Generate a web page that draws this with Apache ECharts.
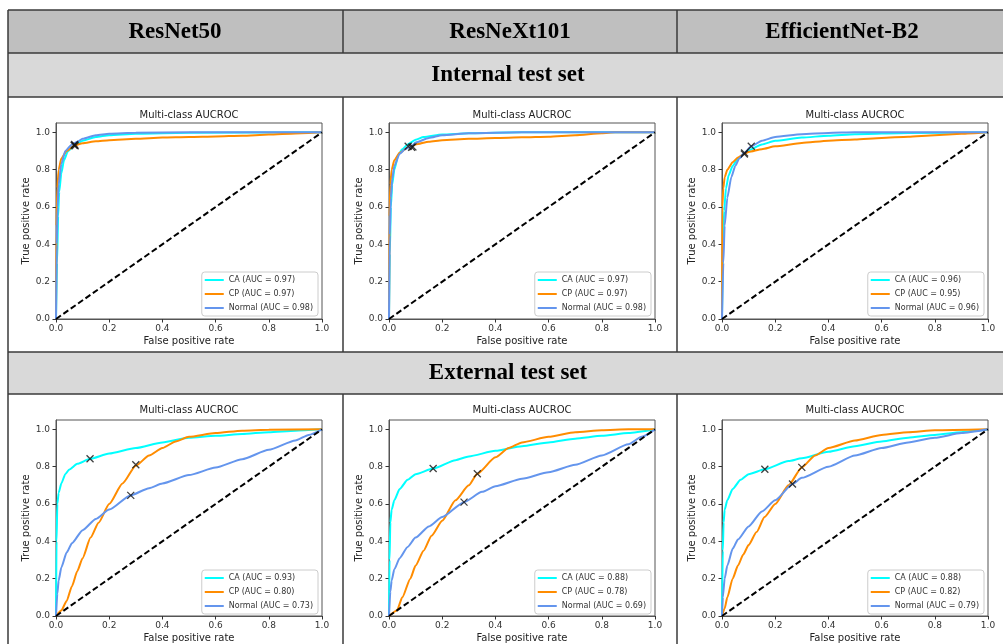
<!DOCTYPE html>
<html>
<head>
<meta charset="utf-8">
<title>Multi-class AUCROC</title>
<script src="https://cdn.jsdelivr.net/npm/echarts@6/dist/echarts.min.js"></script>
<style>
  html, body { margin: 0; padding: 0; background: #fff; }
  #chart { width: 1003px; height: 644px; }
</style>
</head>
<body>
<div id="chart"></div>
<script>
// column / row headings
const models = ['ResNet50', 'ResNeXt101', 'EfficientNet-B2'];
const testSets = ['Internal test set', 'External test set'];
const classes = ['CA', 'CP', 'Normal'];
const tickValues = [0, 0.2, 0.4, 0.6, 0.8, 1.0];

// AUC per model (CA, CP, Normal)
const aucInternal = [[0.97, 0.97, 0.98], [0.97, 0.97, 0.98], [0.96, 0.95, 0.96]];
const aucExternal = [[0.93, 0.80, 0.73], [0.88, 0.78, 0.69], [0.88, 0.82, 0.79]];

// ROC points [fpr, tpr]
// internal - ResNet50
const intR50CA = [[0,0],[0.004,0.3],[0.008,0.55],[0.012,0.68],[0.02,0.78],[0.03,0.85],[0.045,0.9],[0.07,0.93],[0.1,0.955],[0.15,0.975],[0.2,0.985],[0.3,0.993],[0.5,0.998],[1,1]];
const intR50CP = [[0,0],[0.002,0.5],[0.005,0.7],[0.01,0.8],[0.02,0.86],[0.04,0.9],[0.07,0.93],[0.1,0.942],[0.15,0.952],[0.2,0.958],[0.3,0.965],[0.4,0.972],[0.5,0.975],[0.6,0.978],[0.7,0.982],[0.8,0.988],[0.9,0.994],[1,1]];
const intR50N = [[0,0],[0.003,0.4],[0.006,0.6],[0.01,0.72],[0.02,0.83],[0.035,0.9],[0.06,0.935],[0.08,0.95],[0.1,0.965],[0.15,0.985],[0.2,0.993],[0.3,0.998],[0.5,1],[1,1]];
const intR50Cut = [[0.068,0.93],[0.07,0.935],[0.072,0.928]];
// internal - ResNeXt101
const intRX101CA = [[0,0],[0.003,0.35],[0.007,0.6],[0.012,0.72],[0.02,0.8],[0.035,0.88],[0.05,0.91],[0.07,0.935],[0.1,0.96],[0.13,0.975],[0.2,0.988],[0.3,0.995],[0.5,1],[1,1]];
const intRX101CP = [[0,0],[0.002,0.55],[0.005,0.72],[0.01,0.8],[0.02,0.85],[0.04,0.89],[0.07,0.918],[0.1,0.935],[0.15,0.95],[0.2,0.958],[0.3,0.965],[0.4,0.97],[0.5,0.973],[0.6,0.977],[0.7,0.985],[0.8,0.995],[0.85,1],[1,1]];
const intRX101N = [[0,0],[0.003,0.45],[0.007,0.65],[0.012,0.75],[0.02,0.82],[0.04,0.885],[0.06,0.91],[0.085,0.925],[0.1,0.945],[0.15,0.97],[0.2,0.985],[0.3,0.995],[0.5,1],[1,1]];
const intRX101Cut = [[0.072,0.925],[0.085,0.92],[0.09,0.922]];
// internal - EfficientNet-B2
const intEffCA = [[0,0],[0.004,0.4],[0.008,0.58],[0.015,0.7],[0.025,0.77],[0.04,0.82],[0.06,0.86],[0.084,0.886],[0.1,0.905],[0.15,0.935],[0.2,0.955],[0.3,0.972],[0.4,0.982],[0.5,0.99],[0.7,0.997],[1,1]];
const intEffCP = [[0,0],[0.001,0.6],[0.005,0.7],[0.01,0.76],[0.02,0.8],[0.04,0.84],[0.06,0.865],[0.08,0.882],[0.1,0.895],[0.15,0.91],[0.2,0.925],[0.3,0.943],[0.4,0.955],[0.5,0.962],[0.6,0.97],[0.7,0.977],[0.8,0.985],[0.9,0.992],[1,1]];
const intEffN = [[0,0],[0.005,0.3],[0.01,0.5],[0.02,0.65],[0.035,0.76],[0.05,0.82],[0.065,0.86],[0.084,0.89],[0.11,0.925],[0.15,0.955],[0.2,0.975],[0.3,0.99],[0.4,0.997],[0.5,1],[1,1]];
const intEffCut = [[0.084,0.884],[0.085,0.89],[0.11,0.925]];
// external - ResNet50
const extR50CA = [[0,0],[0.002,0.4],[0.005,0.6],[0.01,0.66],[0.02,0.71],[0.035,0.76],[0.05,0.785],[0.08,0.815],[0.128,0.842],[0.2,0.87],[0.3,0.9],[0.4,0.93],[0.5,0.955],[0.6,0.965],[0.7,0.975],[0.8,0.985],[0.9,0.993],[1,1]];
const extR50CP = [[0,0],[0.02,0.03],[0.04,0.08],[0.06,0.16],[0.08,0.24],[0.1,0.31],[0.13,0.42],[0.16,0.5],[0.2,0.6],[0.25,0.71],[0.3,0.805],[0.35,0.86],[0.4,0.9],[0.45,0.935],[0.5,0.96],[0.6,0.98],[0.7,0.993],[0.8,0.998],[1,1]];
const extR50N = [[0,0],[0.005,0.12],[0.01,0.19],[0.02,0.26],[0.04,0.34],[0.06,0.39],[0.1,0.46],[0.15,0.52],[0.2,0.57],[0.28,0.646],[0.35,0.685],[0.4,0.71],[0.5,0.755],[0.6,0.795],[0.7,0.84],[0.8,0.89],[0.9,0.94],[0.95,0.97],[1,1]];
const extR50Cut = [[0.128,0.842],[0.3,0.81],[0.281,0.646]];
// external - ResNeXt101
const extRX101CA = [[0,0],[0.002,0.3],[0.005,0.5],[0.01,0.57],[0.02,0.62],[0.04,0.68],[0.07,0.73],[0.1,0.76],[0.166,0.79],[0.25,0.835],[0.3,0.855],[0.4,0.885],[0.5,0.91],[0.6,0.93],[0.7,0.95],[0.8,0.965],[0.9,0.98],[1,1]];
const extRX101CP = [[0,0],[0.03,0.03],[0.05,0.1],[0.08,0.2],[0.1,0.27],[0.13,0.35],[0.16,0.43],[0.2,0.51],[0.25,0.62],[0.3,0.7],[0.332,0.762],[0.4,0.85],[0.45,0.9],[0.5,0.93],[0.6,0.96],[0.7,0.985],[0.8,0.995],[0.9,1],[1,1]];
const extRX101N = [[0,0],[0.005,0.13],[0.01,0.19],[0.02,0.25],[0.04,0.31],[0.07,0.37],[0.1,0.42],[0.15,0.48],[0.2,0.53],[0.282,0.61],[0.35,0.665],[0.4,0.695],[0.5,0.735],[0.6,0.77],[0.7,0.81],[0.8,0.86],[0.9,0.92],[0.95,0.96],[1,1]];
const extRX101Cut = [[0.166,0.79],[0.332,0.762],[0.282,0.61]];
// external - EfficientNet-B2
const extEffCA = [[0,0],[0.003,0.35],[0.006,0.5],[0.01,0.57],[0.02,0.62],[0.04,0.68],[0.07,0.73],[0.1,0.76],[0.161,0.786],[0.25,0.83],[0.3,0.845],[0.4,0.88],[0.5,0.91],[0.6,0.935],[0.7,0.955],[0.8,0.97],[0.9,0.985],[1,1]];
const extEffCP = [[0,0],[0.01,0.04],[0.02,0.1],[0.04,0.2],[0.06,0.27],[0.08,0.33],[0.1,0.38],[0.13,0.45],[0.16,0.53],[0.2,0.6],[0.25,0.7],[0.3,0.796],[0.35,0.86],[0.4,0.9],[0.5,0.94],[0.6,0.97],[0.7,0.985],[0.8,0.995],[1,1]];
const extEffN = [[0,0],[0.003,0.1],[0.01,0.2],[0.02,0.27],[0.04,0.36],[0.06,0.41],[0.1,0.48],[0.15,0.56],[0.2,0.62],[0.265,0.707],[0.3,0.74],[0.4,0.8],[0.5,0.86],[0.6,0.9],[0.7,0.93],[0.8,0.955],[0.9,0.98],[1,1]];
const extEffCut = [[0.161,0.786],[0.3,0.796],[0.265,0.707]];

const diagonal = [[0, 0], [1, 1]];

// panels in reading order
const panels = [
  { row: 0, col: 0, curves: [intR50CA, intR50CP, intR50N], cuts: intR50Cut, auc: aucInternal[0] },
  { row: 0, col: 1, curves: [intRX101CA, intRX101CP, intRX101N], cuts: intRX101Cut, auc: aucInternal[1] },
  { row: 0, col: 2, curves: [intEffCA, intEffCP, intEffN], cuts: intEffCut, auc: aucInternal[2] },
  { row: 1, col: 0, curves: [extR50CA, extR50CP, extR50N], cuts: extR50Cut, auc: aucExternal[0] },
  { row: 1, col: 1, curves: [extRX101CA, extRX101CP, extRX101N], cuts: extRX101Cut, auc: aucExternal[1] },
  { row: 1, col: 2, curves: [extEffCA, extEffCP, extEffN], cuts: extEffCut, auc: aucExternal[2] }
];

const W = 1003, H = 644;
const colors = ['#00ffff', '#ff8c00', '#6495ed'];
const font = 'DejaVu Sans';

// layout of the table and plot areas
const colLeft = [56, 389, 722];
const rowTop = [123, 420];
const gridW = 266;
const gridH = [196, 197];
const colCenter = [175, 510, 842];
const titleY = [115, 410];

const gridLine = '#3a3a3a';
const tbl = [];
const hline = (y, x1, x2) => tbl.push({ type: 'line', shape: { x1, y1: y, x2, y2: y }, style: { stroke: gridLine, lineWidth: 1.5 } });
const vline = (x, y1, y2) => tbl.push({ type: 'line', shape: { x1: x, y1, x2: x, y2 }, style: { stroke: gridLine, lineWidth: 1.5 } });

tbl.push({ type: 'rect', shape: { x: 8, y: 10, width: W, height: 43 }, style: { fill: '#bfbfbf' } });
tbl.push({ type: 'rect', shape: { x: 8, y: 53, width: W, height: 44 }, style: { fill: '#d9d9d9' } });
tbl.push({ type: 'rect', shape: { x: 8, y: 352, width: W, height: 42 }, style: { fill: '#d9d9d9' } });
[10, 53, 97, 352, 394].forEach(y => hline(y, 8, W));
vline(8, 10, H);
[343, 677].forEach(x => { vline(x, 10, 53); vline(x, 97, 352); vline(x, 394, H); });

models.forEach((m, i) => tbl.push({
  type: 'text', x: colCenter[i], y: 32,
  style: { text: m, font: 'bold 23px "Liberation Serif"', fill: '#000', align: 'center', verticalAlign: 'middle' }
}));
[75, 373].forEach((y, i) => tbl.push({
  type: 'text', x: 508, y,
  style: { text: testSets[i], font: 'bold 23px "Liberation Serif"', fill: '#000', align: 'center', verticalAlign: 'middle' }
}));

const grids = [], xAxes = [], yAxes = [], series = [], legends = [];

panels.forEach((p, i) => {
  const left = colLeft[p.col], top = rowTop[p.row], h = gridH[p.row];

  grids.push({ left, top, width: gridW, height: h, show: true, borderColor: '#555', borderWidth: 1 });

  tbl.push({
    type: 'text', x: left + gridW / 2, y: titleY[p.row],
    style: { text: 'Multi-class AUCROC', font: '10px "' + font + '"', fill: '#222', align: 'center', verticalAlign: 'middle' }
  });

  xAxes.push({
    type: 'value', gridIndex: i, min: 0, max: 1, interval: 0.2,
    name: 'False positive rate', nameLocation: 'middle', nameGap: 17,
    nameTextStyle: { fontSize: 10, color: '#222', fontFamily: font },
    axisLine: { show: true, lineStyle: { color: '#555' } },
    axisTick: { show: true, length: 3.5, lineStyle: { color: '#333' } },
    axisLabel: { fontSize: 9, color: '#333', fontFamily: font, margin: 5, formatter: v => v.toFixed(1) },
    splitLine: { show: false }
  });

  yAxes.push({
    type: 'value', gridIndex: i, min: 0, max: 1.05, interval: 0.2,
    name: 'True positive rate', nameLocation: 'middle', nameGap: 23, nameRotate: 90,
    nameTextStyle: { fontSize: 10, color: '#222', fontFamily: font },
    axisLine: { show: true, lineStyle: { color: '#555' } },
    axisTick: { show: true, length: 3.5, lineStyle: { color: '#333' }, customValues: tickValues },
    axisLabel: { fontSize: 9, color: '#333', fontFamily: font, margin: 6, customValues: tickValues, formatter: v => v.toFixed(1) },
    splitLine: { show: false }
  });

  const names = classes.map((c, k) => c + ' (AUC = ' + p.auc[k].toFixed(2) + ')');

  p.curves.forEach((curve, k) => {
    series.push({
      type: 'line', name: names[k], xAxisIndex: i, yAxisIndex: i,
      data: curve, symbol: 'none', showSymbol: false,
      smooth: 0.2, smoothMonotone: 'x',
      lineStyle: { color: colors[k], width: 2 }, itemStyle: { color: colors[k] },
      z: 2
    });
  });

  series.push({
    type: 'line', name: 'chance', xAxisIndex: i, yAxisIndex: i,
    data: diagonal, symbol: 'none',
    lineStyle: { color: '#000', width: 2, type: [6, 3] }, z: 3
  });

  series.push({
    type: 'scatter', name: 'cut-off', xAxisIndex: i, yAxisIndex: i,
    data: p.cuts, symbol: 'path://M0,0L10,10M10,0L0,10', symbolSize: 7,
    itemStyle: { color: 'rgba(0,0,0,0)', borderColor: '#111', borderWidth: 1.3 }, z: 4
  });

  legends.push({
    data: names, orient: 'vertical', icon: 'rect',
    right: W - (left + gridW) + 4, bottom: H - (top + h) + 3,
    itemWidth: 19, itemHeight: 2, itemGap: 4,
    padding: [3, 5, 3, 3],
    borderColor: '#cccccc', borderWidth: 1, borderRadius: 3,
    backgroundColor: 'rgba(255,255,255,0.85)',
    textStyle: { fontSize: 8, color: '#333', fontFamily: font, lineHeight: 10 },
    selectedMode: false
  });
});

const chart = echarts.init(document.getElementById('chart'));
chart.setOption({
  animation: false,
  backgroundColor: '#fff',
  graphic: tbl,
  grid: grids,
  xAxis: xAxes,
  yAxis: yAxes,
  legend: legends,
  series
});
</script>
</body>
</html>
